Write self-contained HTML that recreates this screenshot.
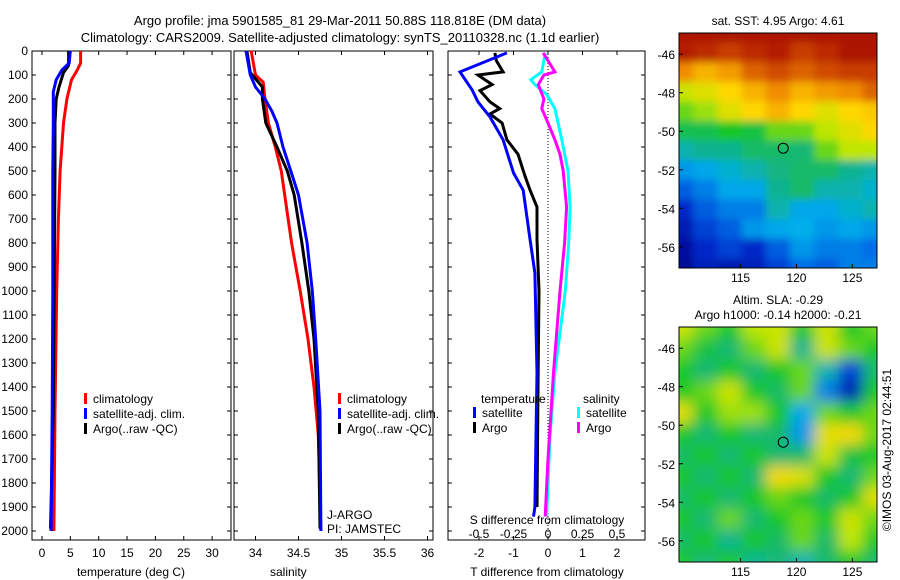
<!DOCTYPE html>
<html><head><meta charset="utf-8"><style>
body{margin:0;background:#fff}svg{display:block;font-family:"Liberation Sans",sans-serif}
</style></head><body>
<svg id="fig" width="900" height="580" viewBox="0 0 900 580">
<defs>
<filter id="bl" x="0" y="0" width="1" height="1"><feGaussianBlur stdDeviation="4"/></filter>
<filter id="bl2" x="0" y="0" width="1" height="1"><feGaussianBlur stdDeviation="7"/></filter>
<clipPath id="c1"><rect x="679" y="33" width="198" height="235"/></clipPath>
<clipPath id="c2"><rect x="679" y="327" width="198" height="235"/></clipPath>
</defs>
<text x="340" y="25" font-size="13" text-anchor="middle">Argo profile: jma 5901585_81 29-Mar-2011 50.88S 118.818E (DM data)</text>
<text x="340" y="42" font-size="13" text-anchor="middle">Climatology: CARS2009. Satellite-adjusted climatology: synTS_20110328.nc (1.1d earlier)</text>
<g id="g"></g>
</svg>
<script>
// ---- data ----
const depthTicks=[0,100,200,300,400,500,600,700,800,900,1000,1100,1200,1300,1400,1500,1600,1700,1800,1900,2000];
const tempTicks=[0,5,10,15,20,25,30];
const salTicks=[34,34.5,35,35.5,36];
const tdTicks=[-2,-1,0,1,2];
const sdTicks=[-0.5,-0.25,0,0.25,0.5];
const tClimD=[0,50,80,120,200,300,500,700,1000,1500,2000];
const tClimV=[6.8,6.8,6.2,5.2,4.4,3.8,3.2,2.9,2.6,2.3,2.1];
const tSatD=[0,50,80,120,170,300,500,1000,1500,2000];
const tSatV=[5,4.8,3.5,2.5,2.0,2.0,1.9,1.9,1.8,1.6];
const tArgD=[0,60,90,150,200,300,500,800,1500,1990];
const tArgV=[4.7,4.7,3.8,3.0,2.5,2.3,2.3,2.2,2.0,1.5];
const sClimD=[0,100,130,200,300,400,500,600,800,1000,1200,1400,1600,2000];
const sClimV=[33.95,34.0,34.09,34.11,34.15,34.23,34.3,34.34,34.42,34.52,34.61,34.68,34.73,34.76];
const sSatD=[0,100,150,200,250,300,400,500,600,800,1000,1200,1500,2000];
const sSatV=[33.89,33.94,34.0,34.11,34.19,34.25,34.32,34.41,34.5,34.6,34.66,34.7,34.75,34.76];
const sArgD=[0,90,150,200,300,400,500,600,800,1000,1200,1500,1990];
const sArgV=[33.9,33.94,34.08,34.08,34.12,34.25,34.37,34.45,34.54,34.62,34.68,34.73,34.75];
const dtSatD=[8,87,162,212,275,370,508,580,787,925,1342,1900,1940];
const dtSatV=[-1.19,-2.55,-2.2,-2.03,-1.68,-1.3,-1.0,-0.72,-0.52,-0.38,-0.32,-0.38,-0.42];
const dtArgD=[8,40,87,100,140,165,212,240,262,300,370,430,520,580,650,787,1000,1400,1900];
const dtArgV=[-1.54,-1.5,-1.3,-2.03,-1.62,-1.97,-1.68,-1.4,-1.68,-1.33,-1.19,-0.87,-0.67,-0.52,-0.32,-0.32,-0.26,-0.29,-0.32];
const dsSatD=[8,87,120,140,180,240,370,500,650,800,1000,1340,1600,1940];
const dsSatV=[-0.02,-0.045,-0.125,-0.095,-0.01,0.05,0.1,0.145,0.16,0.15,0.125,0.05,0.015,-0.01];
const dsArgD=[8,87,100,140,200,240,300,370,430,500,650,800,1000,1340,1700,1940];
const dsArgV=[-0.035,0.05,-0.03,-0.07,-0.03,-0.045,0,0.05,0.087,0.11,0.135,0.12,0.087,0.04,0.0,-0.02];
const lonTicks=[115,120,125];
const latTicks=[-46,-48,-50,-52,-54,-56];
const sstGrid=[
[0.97,0.97,0.97,0.97,0.97,0.97,0.97,0.97,0.97],
[0.95,0.93,0.9,0.93,0.95,0.9,0.93,0.97,0.97],
[0.8,0.75,0.78,0.85,0.88,0.85,0.88,0.9,0.9],
[0.62,0.65,0.7,0.75,0.8,0.75,0.78,0.8,0.85],
[0.55,0.58,0.65,0.7,0.75,0.7,0.65,0.7,0.72],
[0.47,0.47,0.5,0.48,0.55,0.55,0.6,0.65,0.7],
[0.4,0.42,0.42,0.45,0.45,0.44,0.55,0.6,0.6],
[0.33,0.35,0.38,0.4,0.43,0.45,0.45,0.42,0.4],
[0.25,0.3,0.35,0.35,0.42,0.45,0.4,0.4,0.38],
[0.15,0.25,0.3,0.3,0.4,0.35,0.35,0.38,0.4],
[0.1,0.2,0.25,0.33,0.35,0.36,0.33,0.35,0.33],
[0.06,0.15,0.2,0.15,0.25,0.33,0.3,0.3,0.28],
[0.04,0.12,0.1,0.12,0.2,0.28,0.25,0.3,0.3]];
const slaGrid=[
[0.62,0.55,0.5,0.6,0.62,0.5,0.62,0.5,0.55],
[0.55,0.48,0.44,0.55,0.62,0.42,0.62,0.55,0.5],
[0.5,0.44,0.5,0.44,0.5,0.55,0.4,0.2,0.45],
[0.5,0.55,0.62,0.5,0.45,0.55,0.3,0.1,0.5],
[0.65,0.5,0.58,0.58,0.5,0.35,0.55,0.5,0.55],
[0.5,0.44,0.5,0.44,0.45,0.33,0.66,0.68,0.55],
[0.45,0.5,0.44,0.5,0.44,0.45,0.62,0.48,0.5],
[0.5,0.44,0.5,0.44,0.68,0.64,0.5,0.44,0.55],
[0.45,0.5,0.44,0.5,0.55,0.5,0.45,0.5,0.65],
[0.5,0.44,0.55,0.44,0.5,0.55,0.5,0.62,0.55],
[0.45,0.5,0.42,0.5,0.45,0.55,0.45,0.6,0.5],
[0.5,0.44,0.5,0.42,0.44,0.4,0.45,0.5,0.45]];
// ---- helpers ----
const NS="http://www.w3.org/2000/svg",G=document.getElementById('g');
function mk(t,a,p){const e=document.createElementNS(NS,t);for(const k in a)e.setAttribute(k,a[k]);(p||G).appendChild(e);return e;}
const Y0=51,YS=0.24;const yD=d=>Y0+d*YS;
const xT=v=>42+v*5.67, xS=v=>255.5+(v-34)*86, xDT=v=>548+v*34.5, xDS=v=>548+v*138;
function line(xs,ds,fx,col,w,name){const pts=ds.map((d,i)=>fx(xs[i]).toFixed(1)+','+yD(d).toFixed(1)).join(' ');
 const e=mk('polyline',{points:pts,fill:'none',stroke:col,'stroke-width':w,'stroke-linejoin':'miter'});
 
 }
function txt(x,y,s,a,sz,name){const e=mk('text',{x:x,y:y,'font-size':sz||12,'text-anchor':a||'start'});e.textContent=s;
 
 return e;}
function panel(x0,x1,name){const r=mk('rect',{x:x0,y:Y0,width:x1-x0,height:489,fill:'none',stroke:'#000','stroke-width':1});
 
 
 depthTicks.forEach(d=>{mk('line',{x1:x0,x2:x0+4,y1:yD(d),y2:yD(d),stroke:'#000'});mk('line',{x1:x1,x2:x1-4,y1:yD(d),y2:yD(d),stroke:'#000'});});}
// panel 1
panel(32,231,'temperature-panel');
depthTicks.forEach(d=>txt(28,yD(d)+4,String(d),'end',12,'depth-tick-label'));
tempTicks.forEach(v=>{mk('line',{x1:xT(v),x2:xT(v),y1:540,y2:536,stroke:'#000'});mk('line',{x1:xT(v),x2:xT(v),y1:51,y2:55,stroke:'#000'});txt(xT(v),557,String(v),'middle',12,'temp-tick-label');});
txt(131,576,'temperature (deg C)','middle',12,'x-axis-title-temperature');
line(tClimV,tClimD,xT,'#f00',3,'temp-climatology-line');
line(tArgV,tArgD,xT,'#000',3,'temp-argo-line');
line(tSatV,tSatD,xT,'#00f',3,'temp-satellite-line');
// panel 2
panel(234,433,'salinity-panel');
salTicks.forEach(v=>{mk('line',{x1:xS(v),x2:xS(v),y1:540,y2:536,stroke:'#000'});mk('line',{x1:xS(v),x2:xS(v),y1:51,y2:55,stroke:'#000'});txt(xS(v),557,String(v),'middle',12,'sal-tick-label');});
txt(270,576,'salinity','start',12,'x-axis-title-salinity');
line(sClimV,sClimD,xS,'#f00',3,'sal-climatology-line');
line(sArgV,sArgD,xS,'#000',3,'sal-argo-line');
line(sSatV,sSatD,xS,'#00f',3,'sal-satellite-line');
txt(327,519,'J-ARGO','start',12,'agency-label');txt(327,533,'PI: JAMSTEC','start',12,'pi-label');
[[84,'panel1'],[338,'panel2']].forEach(([lx,p])=>{
 [['#f00','climatology'],['#00f','satellite-adj. clim.'],['#000','Argo(..raw -QC)']].forEach(([c,l],i)=>{
  mk('rect',{x:lx,y:393+i*15,width:3,height:11,fill:c});txt(lx+9,403+i*15,l,'start',12,'legend-'+p+'-'+i);});});
// panel 3
panel(448,645,'difference-panel');
mk('line',{x1:548,x2:548,y1:51,y2:540,stroke:'#000','stroke-dasharray':'1,2'});
tdTicks.forEach(v=>{mk('line',{x1:xDT(v),x2:xDT(v),y1:540,y2:536,stroke:'#000'});mk('line',{x1:xDT(v),x2:xDT(v),y1:51,y2:55,stroke:'#000'});txt(xDT(v),557,String(v),'middle',12,'tdiff-tick-label');});
sdTicks.forEach(v=>txt(xDS(v),538,String(v),'middle',12,'sdiff-tick-label'));
txt(547,524,'S difference from climatology','middle',12,'sdiff-axis-title');
txt(547,576,'T difference from climatology','middle',12,'tdiff-axis-title');
line(dtArgV,dtArgD,xDT,'#000',3,'tdiff-argo-line');
line(dtSatV,dtSatD,xDT,'#00f',3,'tdiff-satellite-line');
line(dsSatV,dsSatD,xDS,'#0ff',3,'sdiff-satellite-line');
line(dsArgV,dsArgD,xDS,'#f0f',3,'sdiff-argo-line');
txt(481,403,'temperature','start',12,'legend-temperature-header');txt(583,403,'salinity','start',12,'legend-salinity-header');
[[473,'#00f','satellite'],[473,'#000','Argo'],[577,'#0ff','satellite'],[577,'#f0f','Argo']].forEach(([lx,c,l],i)=>{
 const yy=407+(i%2)*15;mk('rect',{x:lx,y:yy,width:3,height:11,fill:c});txt(lx+9,yy+10,l,'start',12,'legend-diff-'+i);});
// maps
const cmapPos=[0,0.15,0.28,0.36,0.43,0.5,0.6,0.7,0.8,0.9,1];
const cmapCol=[[0,0,130],[0,40,200],[0,110,230],[0,175,235],[20,180,130],[20,200,40],[190,230,0],[255,215,0],[240,140,0],[200,60,0],[160,0,0]];
function cmap(v){v=Math.max(0,Math.min(1,v));let i=0;while(i<cmapPos.length-2&&v>cmapPos[i+1])i++;
 const t=(v-cmapPos[i])/(cmapPos[i+1]-cmapPos[i]),a=cmapCol[i],b=cmapCol[i+1];
 return `rgb(${Math.round(a[0]+(b[0]-a[0])*t)},${Math.round(a[1]+(b[1]-a[1])*t)},${Math.round(a[2]+(b[2]-a[2])*t)})`;}
function map(y0,grid,clip,filt,name,titleLines){
 const X0=679,W=198,H=235,lonL=109.5,lonR=127.2,latT=-44.9,latB=-57.1;
 const xL=v=>X0+(v-lonL)/(lonR-lonL)*W, yL=v=>y0+(latT-v)/(latT-latB)*H;
 const g=mk('g',{'clip-path':'url(#'+clip+')'});
 
 
 const gi=mk('g',{filter:'url(#'+filt+')'},g);
 const R=grid.length,C=grid[0].length;
 mk('rect',{x:X0,y:y0,width:W,height:H,fill:cmap(grid[R-1][0])},gi);
 grid.forEach((row,i)=>row.forEach((v,j)=>mk('rect',{x:X0-10+j*(W+20)/C,y:y0-10+i*(H+20)/R,width:(W+20)/C+0.5,height:(H+20)/R+0.5,fill:cmap(v)},gi)));
 mk('rect',{x:X0,y:y0,width:W,height:H,fill:'none',stroke:'#000'});
 lonTicks.forEach(v=>{mk('line',{x1:xL(v),x2:xL(v),y1:y0+H,y2:y0+H-4,stroke:'#000'});txt(xL(v),y0+H+14,String(v),'middle',12,'lon-tick-label');});
 latTicks.forEach(v=>{mk('line',{x1:X0,x2:X0+4,y1:yL(v),y2:yL(v),stroke:'#000'});txt(X0-4,yL(v)+5,String(v),'end',12,'lat-tick-label');});
 mk('ellipse',{cx:xL(118.818),cy:yL(-50.88),rx:5,ry:5,fill:'none',stroke:'#000'});
 titleLines.forEach((t,i)=>txt(778,y0-8-(titleLines.length-1-i)*15,t,'middle',12,name+'-title'));
}
map(33,sstGrid,'c1','bl','sst-map',['sat. SST: 4.95 Argo: 4.61']);
map(327,slaGrid,'c2','bl2','sla-map',['Altim. SLA: -0.29','Argo h1000: -0.14 h2000: -0.21']);
const cp=txt(0,0,'©IMOS 03-Aug-2017 02:44:51','middle',12,'copyright-label');cp.setAttribute('transform','translate(891,450) rotate(-90)');
</script>
</body></html>
